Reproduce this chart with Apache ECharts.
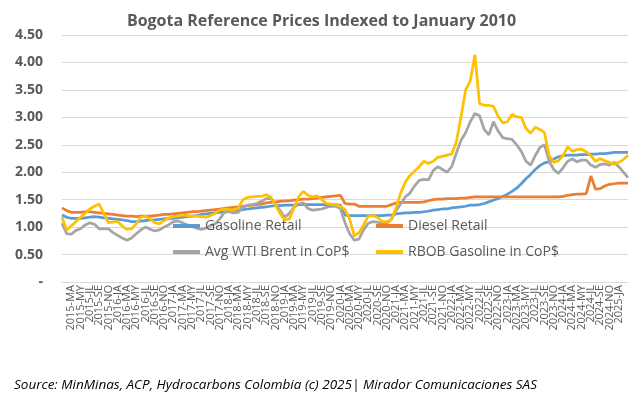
<!DOCTYPE html>
<html>
<head>
<meta charset="utf-8">
<script src="https://cdn.jsdelivr.net/npm/echarts@6/dist/echarts.min.js"></script>
<style>
  html, body { margin: 0; padding: 0; background: #fff; }
  #chart { width: 643px; height: 397px; }
</style>
</head>
<body>
<div id="chart"></div>
<script>
// monthly, Jan 2015 .. Mar 2025
const monthCodes = ["JA", "FE", "MA", "AB", "MY", "JN", "JL", "AG", "SE", "OC", "NO", "DI"];
const months = [];
for (let y = 2015; y <= 2025; y++) {
  for (let m = 0; m < 12; m++) {
    if (y === 2025 && m > 2) break;
    months.push(y + "-" + monthCodes[m]);
  }
}

const gasolineRetail = [
  1.22, 1.18, 1.16, 1.16, 1.16, 1.17, 1.18, 1.19, 1.18, 1.17, 1.16, 1.15,
  1.14, 1.13, 1.12, 1.10, 1.10, 1.11, 1.12, 1.13, 1.13, 1.14, 1.15, 1.16,
  1.16, 1.17, 1.18, 1.19, 1.20, 1.21, 1.23, 1.24, 1.25, 1.26, 1.27, 1.28,
  1.29, 1.30, 1.31, 1.32, 1.33, 1.34, 1.35, 1.36, 1.37, 1.38, 1.39, 1.39,
  1.40, 1.40, 1.40, 1.41, 1.41, 1.41, 1.41, 1.41, 1.41, 1.41, 1.41, 1.41,
  1.40, 1.22, 1.21, 1.21, 1.21, 1.21, 1.21, 1.21, 1.21, 1.21, 1.22, 1.22,
  1.24, 1.25, 1.26, 1.26, 1.27, 1.27, 1.28, 1.29, 1.31, 1.32, 1.33, 1.33,
  1.35, 1.36, 1.37, 1.38, 1.40, 1.40, 1.41, 1.43, 1.46, 1.49, 1.52, 1.56,
  1.60, 1.65, 1.71, 1.79, 1.88, 1.96, 2.05, 2.12, 2.17, 2.19, 2.24, 2.28,
  2.30, 2.31, 2.31, 2.31, 2.32, 2.32, 2.33, 2.33, 2.34, 2.34, 2.35, 2.36,
  2.36, 2.36, 2.36
];

const dieselRetail = [
  1.35, 1.30, 1.27, 1.27, 1.27, 1.28, 1.28, 1.27, 1.26, 1.25, 1.24, 1.23,
  1.22, 1.21, 1.20, 1.20, 1.19, 1.20, 1.20, 1.20, 1.21, 1.22, 1.23, 1.23,
  1.24, 1.25, 1.26, 1.27, 1.28, 1.28, 1.29, 1.30, 1.31, 1.32, 1.33, 1.34,
  1.35, 1.36, 1.37, 1.38, 1.39, 1.40, 1.41, 1.42, 1.44, 1.45, 1.46, 1.47,
  1.48, 1.48, 1.49, 1.50, 1.51, 1.51, 1.52, 1.53, 1.54, 1.55, 1.56, 1.57,
  1.58, 1.43, 1.42, 1.42, 1.38, 1.38, 1.38, 1.38, 1.38, 1.38, 1.38, 1.41,
  1.44, 1.45, 1.45, 1.45, 1.45, 1.45, 1.46, 1.48, 1.50, 1.51, 1.51, 1.52,
  1.52, 1.52, 1.53, 1.53, 1.54, 1.55, 1.55, 1.55, 1.55, 1.55, 1.55, 1.55,
  1.55, 1.55, 1.55, 1.55, 1.55, 1.55, 1.55, 1.55, 1.55, 1.55, 1.55, 1.55,
  1.56, 1.58, 1.59, 1.60, 1.60, 1.61, 1.93, 1.69, 1.70, 1.75, 1.78, 1.79,
  1.80, 1.80, 1.80
];

const avgWtiBrent = [
  1.07, 0.88, 0.87, 0.94, 0.97, 1.04, 1.08, 1.05, 0.97, 0.97, 0.97, 0.90,
  0.85, 0.80, 0.76, 0.80, 0.88, 0.95, 1.00, 0.96, 0.93, 0.95, 1.00, 1.04,
  1.10, 1.11, 1.08, 1.04, 1.01, 0.98, 0.96, 0.98, 1.03, 1.06, 1.15, 1.27,
  1.28, 1.26, 1.27, 1.36, 1.40, 1.41, 1.43, 1.47, 1.52, 1.52, 1.42, 1.30,
  1.18, 1.25, 1.36, 1.42, 1.44, 1.34, 1.31, 1.32, 1.33, 1.36, 1.38, 1.38,
  1.34, 1.08, 0.88, 0.76, 0.78, 0.95, 1.07, 1.10, 1.09, 1.06, 1.07, 1.14,
  1.30, 1.42, 1.55, 1.62, 1.75, 1.85, 1.87, 1.86, 2.03, 2.10, 2.05, 2.00,
  2.10, 2.35, 2.58, 2.72, 2.92, 3.07, 3.03, 2.78, 2.68, 2.92, 2.75, 2.63,
  2.61, 2.60, 2.50, 2.38, 2.20, 2.13, 2.30, 2.45, 2.50, 2.20, 2.05, 1.98,
  2.08, 2.20, 2.24, 2.19, 2.22, 2.22, 2.13, 2.09, 2.14, 2.15, 2.13, 2.18,
  2.10, 2.00, 1.90
];

const rbobGasoline = [
  1.18, 0.95, 1.02, 1.10, 1.18, 1.25, 1.33, 1.38, 1.42, 1.25, 1.08, 1.09,
  1.10, 1.02, 0.96, 0.97, 1.06, 1.18, 1.20, 1.15, 1.08, 1.06, 1.12, 1.17,
  1.19, 1.20, 1.22, 1.21, 1.20, 1.20, 1.19, 1.18, 1.21, 1.25, 1.31, 1.33,
  1.32, 1.31, 1.35, 1.50, 1.54, 1.55, 1.56, 1.56, 1.59, 1.55, 1.40, 1.25,
  1.13, 1.15, 1.35, 1.55, 1.65, 1.58, 1.55, 1.57, 1.50, 1.43, 1.42, 1.41,
  1.38, 1.32, 1.15, 0.84, 0.90, 1.04, 1.20, 1.21, 1.18, 1.10, 1.10, 1.14,
  1.35, 1.62, 1.82, 1.94, 2.02, 2.10, 2.20, 2.16, 2.20, 2.27, 2.29, 2.31,
  2.33, 2.55, 3.00, 3.50, 3.66, 4.14, 3.25, 3.22, 3.22, 3.20, 3.02, 2.90,
  2.92, 3.05, 3.01, 3.00, 2.80, 2.71, 2.82, 2.78, 2.72, 2.30, 2.18, 2.21,
  2.30, 2.46, 2.38, 2.41, 2.42, 2.37, 2.30, 2.20, 2.25, 2.21, 2.18, 2.14,
  2.18, 2.23, 2.31
];

const seriesNames = ["Gasoline Retail", "Diesel Retail", "Avg WTI Brent in CoP$", "RBOB Gasoline in CoP$"];
const seriesColors = ["#5B9BD5", "#ED7D31", "#A5A5A5", "#FFC000"];
const seriesData = [gasolineRetail, dieselRetail, avgWtiBrent, rbobGasoline];

const textColor = "#595959";
const fontFamily = "'Open Sans', 'Noto Sans', sans-serif";

// legend placement (two rows, two columns inside the plot)
const legendPos = [
  { left: 168, top: 214 },
  { left: 371, top: 214 },
  { left: 168, top: 240 },
  { left: 371, top: 240 }
];

const chart = echarts.init(document.getElementById("chart"), null, { renderer: "canvas" });

chart.setOption({
  animation: false,
  backgroundColor: "#fff",
  title: [
    {
      text: "Bogota Reference Prices Indexed to January 2010",
      left: "center",
      top: 8,
      textStyle: { fontFamily, fontSize: 16, fontWeight: "bold", color: textColor }
    },
    {
      text: "Source: MinMinas, ACP, Hydrocarbons Colombia (c) 2025| Mirador Comunicaciones SAS",
      left: 9,
      top: 373,
      textStyle: { fontFamily, fontSize: 13.5, fontStyle: "italic", fontWeight: "normal", color: "#000" }
    }
  ],
  legend: seriesNames.map((name, i) => ({
    data: [name],
    left: legendPos[i].left,
    top: legendPos[i].top,
    icon: "rect",
    itemWidth: 27,
    itemHeight: 4,
    itemGap: 5,
    selectedMode: false,
    textStyle: { fontFamily, fontSize: 14, color: textColor }
  })),
  grid: { left: 62, right: 15, top: 35, bottom: 115, containLabel: false },
  xAxis: {
    type: "category",
    data: months,
    boundaryGap: false,
    axisLine: { show: true, lineStyle: { color: "#D9D9D9" } },
    axisTick: { show: false },
    axisLabel: {
      interval: 1,
      rotate: 90,
      fontFamily,
      fontSize: 11,
      color: textColor,
      margin: 3
    },
    splitLine: { show: false }
  },
  yAxis: {
    type: "value",
    min: 0,
    max: 4.5,
    interval: 0.5,
    axisLine: { show: false },
    axisTick: { show: false },
    axisLabel: {
      fontFamily,
      fontSize: 14,
      fontWeight: "bold",
      color: textColor,
      margin: 19,
      formatter: (v) => (v === 0 ? "-" : v.toFixed(2))
    },
    splitLine: { lineStyle: { color: "#D9D9D9", width: 1 } }
  },
  series: seriesNames.map((name, i) => ({
    name,
    type: "line",
    data: seriesData[i],
    showSymbol: false,
    symbol: "none",
    color: seriesColors[i],
    lineStyle: { width: 2.75, color: seriesColors[i] },
    itemStyle: { color: seriesColors[i] }
  }))
});
</script>
</body>
</html>
